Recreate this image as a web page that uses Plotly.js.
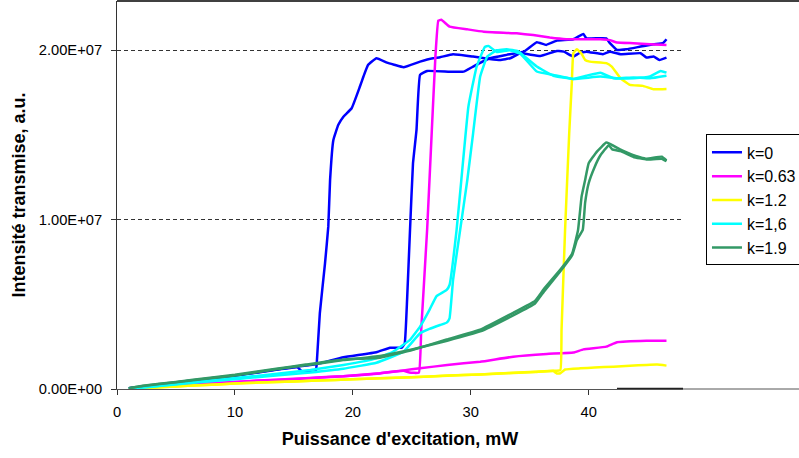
<!DOCTYPE html>
<html>
<head>
<meta charset="utf-8">
<script src="https://cdn.plot.ly/plotly-3.0.1.min.js"></script>
<style>html,body{margin:0;padding:0;background:#fff;}#chart{width:799px;height:458px;}</style>
</head>
<body>
<div id="chart"></div>
<script>
// ---- data (x: mW, y: a.u.) ----
const seriesNames = ["k=0", "k=0.63", "k=1.2", "k=1,6", "k=1.9"];
const seriesColors = ["#0000FF", "#FF00FF", "#FFFF00", "#00FFFF", "#339966"];

const k0UpX = [1, 3, 5, 7, 10, 12, 15, 17, 19.2, 22.0, 23.15, 24.15, 24.4, 24.6, 24.85, 25.1, 25.4, 25.7, 26.3, 28.2, 29.4, 30.2, 31.6, 33.05, 34.5, 35.6, 36.4, 37.3, 38.7, 39.55, 39.8, 41.5, 41.8, 42.4, 43.2, 44.4, 45.5, 46.3, 46.6];
const k0UpY = [0.05e6, 0.2e6, 0.38e6, 0.55e6, 0.8e6, 1.0e6, 1.3e6, 1.48e6, 1.87e6, 2.17e6, 2.44e6, 2.44e6, 2.7e6, 5.26e6, 9.4e6, 13.3e6, 15.3e6, 18.55e6, 18.78e6, 18.74e6, 18.74e6, 19.04e6, 19.53e6, 19.73e6, 19.92e6, 20.48e6, 20.32e6, 20.57e6, 20.65e6, 20.97e6, 20.71e6, 20.71e6, 20.42e6, 20.02e6, 20.06e6, 20.22e6, 20.36e6, 20.42e6, 20.65e6];
const k0DownX = [46.6, 46.0, 45.5, 44.9, 44.4, 42.7, 41.8, 41.2, 39.8, 39.2, 38.7, 37.9, 37.3, 35.9, 34.2, 33.35, 32.5, 31.6, 30.2, 28.5, 27.4, 26.8, 25.7, 24.3, 23.5, 22.9, 22.0, 21.3, 20.9, 20.6, 19.9, 19.2, 18.77, 18.35, 18.07, 17.92, 17.64, 17.2, 16.94, 16.85, 15.7, 15.3, 12, 10, 7, 5, 3, 1];
const k0DownY = [19.57e6, 19.43e6, 19.63e6, 19.57e6, 19.83e6, 19.77e6, 19.92e6, 19.77e6, 19.92e6, 19.83e6, 19.63e6, 19.92e6, 19.96e6, 19.66e6, 19.83e6, 19.53e6, 19.43e6, 19.49e6, 19.63e6, 19.77e6, 19.59e6, 19.53e6, 19.33e6, 19.0e6, 19.15e6, 19.27e6, 19.53e6, 19.14e6, 18.45e6, 17.86e6, 16.58e6, 16.08e6, 15.6e6, 14.71e6, 12.35e6, 9.6e6, 7.42e6, 4.47e6, 1.52e6, 1.05e6, 1.02e6, 1.28e6, 0.98e6, 0.78e6, 0.53e6, 0.37e6, 0.2e6, 0.05e6];

const k063UpX = [1, 3, 5, 7, 10, 12, 15, 17, 19.2, 22.3, 24.3, 25.7, 28.0, 30.8, 33.6, 36.45, 38.7, 39.55, 41.5, 42.4, 44.9, 46.6];
const k063UpY = [0.02e6, 0.12e6, 0.2e6, 0.3e6, 0.42e6, 0.5e6, 0.6e6, 0.68e6, 0.76e6, 0.93e6, 1.1e6, 1.22e6, 1.42e6, 1.61e6, 1.91e6, 2.07e6, 2.15e6, 2.34e6, 2.5e6, 2.76e6, 2.85e6, 2.85e6];
const k063DownX = [46.6, 45.2, 43.8, 42.4, 41.8, 41.0, 38.1, 36.7, 35.3, 33.9, 31.1, 29.7, 28.2, 27.5, 27.25, 27.0, 26.7, 26.3, 25.8, 25.6, 24.8, 24.3, 22.3, 19.2, 17, 15, 12, 10, 7, 5, 3, 1];
const k063DownY = [20.32e6, 20.36e6, 20.42e6, 20.46e6, 20.6e6, 20.65e6, 20.65e6, 20.75e6, 20.9e6, 21.0e6, 21.1e6, 21.24e6, 21.4e6, 21.8e6, 21.75e6, 19.6e6, 15.3e6, 9.4e6, 3.5e6, 0.97e6, 0.97e6, 1.08e6, 0.92e6, 0.75e6, 0.67e6, 0.58e6, 0.49e6, 0.41e6, 0.3e6, 0.2e6, 0.12e6, 0.02e6];

const k12UpX = [1, 3, 5, 7, 10, 12, 15, 17, 20, 22.3, 25, 28, 30.8, 33.6, 35.5, 37.0, 37.6, 37.7, 38.0, 38.35, 38.57, 38.7, 39.0, 39.4, 39.7, 40.1, 41.5, 41.96, 42.7, 43.5, 44.6, 45.5, 46.6];
const k12UpY = [0.0, 0.08e6, 0.15e6, 0.22e6, 0.32e6, 0.38e6, 0.45e6, 0.5e6, 0.57e6, 0.63e6, 0.7e6, 0.79e6, 0.86e6, 0.96e6, 1.02e6, 1.08e6, 1.12e6, 3.5e6, 9.4e6, 15.1e6, 18.06e6, 19.83e6, 20.06e6, 19.8e6, 19.43e6, 19.33e6, 19.24e6, 19.04e6, 18.35e6, 17.96e6, 17.9e6, 17.7e6, 17.72e6];
const k12DownX = [46.6, 45.8, 44.9, 43.5, 42.1, 40.5, 39.3, 38.0, 37.6, 37.3, 37.0, 35.5, 33.6, 30.8, 28, 25, 22.3, 20, 17, 15, 12, 10, 7, 5, 3, 1];
const k12DownY = [1.38e6, 1.44e6, 1.42e6, 1.37e6, 1.32e6, 1.27e6, 1.22e6, 1.15e6, 0.93e6, 0.92e6, 1.06e6, 1.01e6, 0.95e6, 0.86e6, 0.78e6, 0.7e6, 0.63e6, 0.57e6, 0.5e6, 0.45e6, 0.38e6, 0.32e6, 0.22e6, 0.15e6, 0.08e6, 0.0];

const k16UpX = [1, 3, 5, 7, 10, 13, 16.4, 19.2, 22.0, 24.3, 25.7, 26.5, 27.4, 27.96, 28.2, 28.5, 29.1, 29.7, 30.2, 30.8, 31.4, 32.2, 33.05, 34.0, 34.75, 35.6, 37.0, 38.7, 41.0, 42.4, 43.8, 45.2, 46.6];
const k16UpY = [0.02e6, 0.13e6, 0.27e6, 0.4e6, 0.58e6, 0.77e6, 0.98e6, 1.2e6, 1.55e6, 2.2e6, 3.29e6, 3.55e6, 3.78e6, 3.92e6, 4.17e6, 6.44e6, 9.39e6, 12.3e6, 15.1e6, 18.45e6, 19.63e6, 20.0e6, 20.06e6, 19.95e6, 19.53e6, 19.04e6, 18.5e6, 18.31e6, 18.45e6, 18.35e6, 18.4e6, 18.35e6, 18.5e6];
const k16DownX = [46.6, 46.1, 45.2, 43.8, 42.1, 41.0, 39.8, 38.7, 37.0, 35.6, 34.2, 33.3, 32.2, 31.5, 31.2, 30.5, 29.8, 29.2, 28.8, 28.2, 27.96, 27.1, 26.5, 25.7, 24.85, 23.4, 22.0, 19.2, 16.4, 13, 10, 7, 5, 3, 1];
const k16DownY = [18.68e6, 18.78e6, 18.45e6, 18.35e6, 18.35e6, 18.68e6, 18.5e6, 18.31e6, 18.55e6, 18.75e6, 19.8e6, 20.0e6, 19.9e6, 20.26e6, 20.2e6, 19.04e6, 16.67e6, 12.34e6, 9.39e6, 6.14e6, 5.85e6, 5.49e6, 4.67e6, 3.68e6, 2.9e6, 2.2e6, 1.81e6, 1.42e6, 1.12e6, 0.85e6, 0.65e6, 0.45e6, 0.3e6, 0.15e6, 0.03e6];

const k19UpX = [1, 2.2, 5, 7.9, 10, 13.5, 16, 19.2, 22.3, 25.1, 28, 30.8, 33.6, 35.45, 36.2, 37.6, 38.6, 39.0, 39.5, 39.7, 40.0, 40.5, 41.0, 41.7, 42.0, 42.7, 43.8, 44.9, 46.2, 46.6];
const k19UpY = [0.05e6, 0.18e6, 0.4e6, 0.63e6, 0.8e6, 1.16e6, 1.4e6, 1.71e6, 1.95e6, 2.35e6, 2.85e6, 3.4e6, 4.35e6, 5.05e6, 5.75e6, 6.95e6, 7.9e6, 8.8e6, 9.4e6, 11.0e6, 12.15e6, 13.1e6, 13.8e6, 14.4e6, 14.15e6, 14.05e6, 13.7e6, 13.55e6, 13.6e6, 13.45e6];
const k19DownX = [46.6, 46.2, 44.9, 43.8, 42.66, 41.5, 40.7, 40.0, 39.7, 39.4, 39.1, 38.6, 37.6, 36.2, 35.45, 33.6, 30.8, 27.96, 25.1, 22.3, 19.2, 16, 13.5, 10, 7.9, 5, 2.2, 1];
const k19DownY = [13.5e6, 13.72e6, 13.6e6, 13.8e6, 14.15e6, 14.55e6, 14.02e6, 13.33e6, 12.34e6, 11.36e6, 9.39e6, 8.0e6, 7.05e6, 5.9e6, 5.2e6, 4.5e6, 3.5e6, 2.92e6, 2.32e6, 1.85e6, 1.74e6, 1.44e6, 1.2e6, 0.84e6, 0.66e6, 0.42e6, 0.19e6, 0.05e6];

const baseSegX = [42.4, 48];
const baseSegY = [0, 0];

const xTickVals = [0, 10, 20, 30, 40];
const yTickVals = [0, 1e7, 2e7];
const yTickText = ["0.00E+00", "1.00E+07", "2.00E+07"];

// ---- traces ----
const ups = [[k0UpX, k0UpY], [k063UpX, k063UpY], [k12UpX, k12UpY], [k16UpX, k16UpY], [k19UpX, k19UpY]];
const downs = [[k0DownX, k0DownY], [k063DownX, k063DownY], [k12DownX, k12DownY], [k16DownX, k16DownY], [k19DownX, k19DownY]];
const traces = [];
traces.push({x: baseSegX, y: baseSegY, mode: 'lines', line: {color: '#222', width: 2.5}, showlegend: false, hoverinfo: 'skip'});
for (let i = 0; i < seriesNames.length; i++) {
  traces.push({x: ups[i][0], y: ups[i][1], mode: 'lines', name: seriesNames[i], legendgroup: 'g' + i,
    line: {color: seriesColors[i], width: 2.5, shape: 'spline', smoothing: 0.3}});
  traces.push({x: downs[i][0], y: downs[i][1], mode: 'lines', name: seriesNames[i], legendgroup: 'g' + i, showlegend: false,
    line: {color: seriesColors[i], width: 2.5, shape: 'spline', smoothing: 0.3}});
}

const font = 'Arial, "Liberation Sans", sans-serif';
const xDomainEnd = 566 / 682;
const layout = {
  width: 799, height: 458,
  margin: {l: 117, r: 0, t: 1, b: 69, autoexpand: false},
  paper_bgcolor: '#fff', plot_bgcolor: '#fff',
  font: {family: font, size: 15, color: '#000'},
  showlegend: true,
  legend: {x: 0.8636, y: 0.656, xanchor: 'left', yanchor: 'top', bordercolor: '#000', borderwidth: 1,
    bgcolor: '#fff', font: {family: font, size: 16, color: '#000'}, tracegroupgap: 0, itemwidth: 30},
  xaxis: {
    domain: [0, xDomainEnd],
    range: [0, 48], tickvals: xTickVals, ticks: 'outside', ticklen: 5, tickcolor: '#333',
    showline: true, linecolor: '#555', linewidth: 1, showgrid: false, zeroline: false,
    ticklabelstandoff: 4,
    tickfont: {family: font, size: 14.7, color: '#000'},
    title: {text: "<b>Puissance d'excitation, mW</b>", font: {family: font, size: 18, color: '#000'}, standoff: 13}
  },
  yaxis: {
    range: [0, 2.2911e7], tickvals: yTickVals, ticktext: yTickText, ticks: 'outside', ticklen: 5, tickcolor: '#333',
    showline: true, linecolor: '#333', linewidth: 1, zeroline: false,
    showgrid: true, gridcolor: '#333', gridwidth: 1, griddash: '4px,3px',
    ticklabelstandoff: 6,
    tickfont: {family: font, size: 14.7, color: '#000'},
    title: {text: '<b>Intensité transmise, a.u.</b>', font: {family: font, size: 18, color: '#000'}, standoff: 8}
  },
  shapes: [
    {type: 'line', xref: 'paper', yref: 'paper', x0: 0, x1: 1, y0: 1, y1: 1, line: {color: '#000', width: 1.5}},
    {type: 'line', xref: 'paper', yref: 'paper', x0: xDomainEnd, x1: 1, y0: 0, y1: 0, line: {color: '#555', width: 1}}
  ]
};

Plotly.newPlot('chart', traces, layout, {displayModeBar: false, staticPlot: true});
</script>
</body>
</html>
